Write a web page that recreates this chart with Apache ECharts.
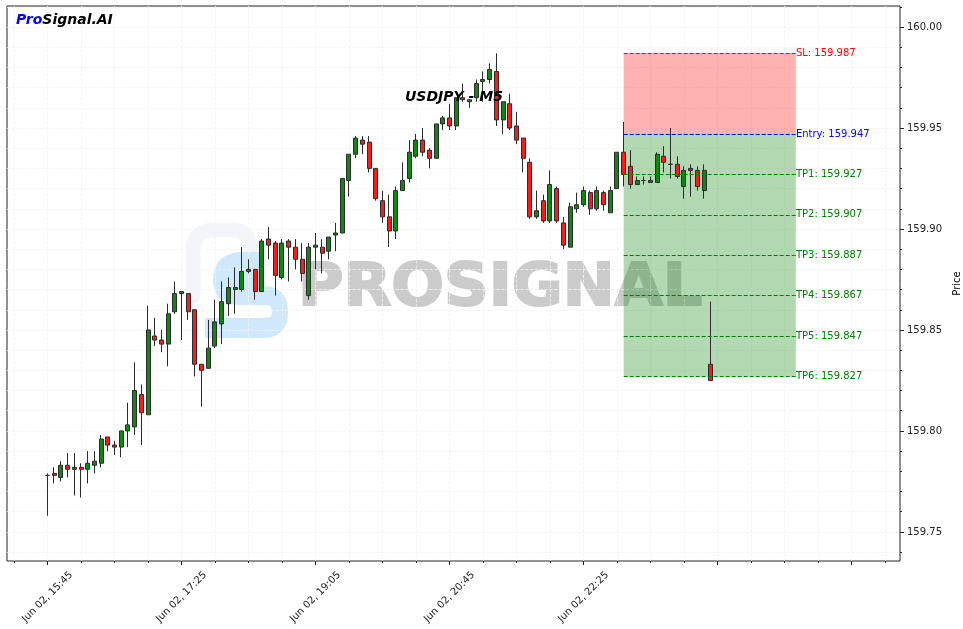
<!DOCTYPE html>
<html>
<head>
<meta charset="utf-8">
<style>html,body{margin:0;padding:0;background:#fff}#c{width:963px;height:629px}</style>
<script src="https://cdn.jsdelivr.net/npm/echarts@6/dist/echarts.min.js"></script>
</head>
<body>
<div id="c"></div>
<script>
const opens = [159.778,159.779,159.777,159.783,159.781,159.782,159.781,159.783,159.784,159.797,159.793,159.792,159.800,159.802,159.818,159.808,159.847,159.845,159.843,159.859,159.868,159.868,159.860,159.833,159.831,159.842,159.853,159.863,159.870,159.870,159.879,159.880,159.869,159.895,159.893,159.876,159.894,159.891,159.885,159.867,159.891,159.891,159.889,159.897,159.898,159.924,159.937,159.944,159.943,159.930,159.914,159.906,159.899,159.919,159.925,159.936,159.944,159.939,159.935,159.952,159.955,159.951,159.965,159.963,159.965,159.973,159.974,159.978,159.954,159.962,159.951,159.945,159.933,159.906,159.914,159.904,159.920,159.903,159.891,159.910,159.912,159.918,159.910,159.918,159.908,159.920,159.938,159.931,159.922,159.924,159.923,159.923,159.936,159.932,159.932,159.921,159.929,159.929,159.919,159.833];
const closes = [159.778,159.778,159.783,159.781,159.782,159.781,159.784,159.785,159.796,159.793,159.792,159.800,159.803,159.820,159.809,159.850,159.845,159.843,159.858,159.868,159.869,159.859,159.833,159.830,159.841,159.854,159.864,159.871,159.871,159.879,159.880,159.869,159.894,159.892,159.877,159.893,159.891,159.885,159.878,159.891,159.892,159.888,159.896,159.898,159.925,159.937,159.945,159.942,159.930,159.915,159.906,159.899,159.919,159.924,159.938,159.944,159.938,159.935,159.952,159.955,159.951,159.965,159.964,159.964,159.972,159.974,159.979,159.954,159.963,159.950,159.944,159.935,159.906,159.909,159.904,159.922,159.904,159.892,159.911,159.912,159.919,159.910,159.919,159.912,159.919,159.938,159.927,159.922,159.924,159.924,159.924,159.937,159.933,159.932,159.926,159.929,159.930,159.921,159.929,159.825];
const lows = [159.758,159.774,159.775,159.777,159.768,159.767,159.774,159.779,159.782,159.790,159.788,159.787,159.792,159.798,159.793,159.808,159.842,159.839,159.832,159.858,159.845,159.855,159.827,159.812,159.831,159.841,159.843,159.857,159.858,159.869,159.878,159.865,159.869,159.885,159.867,159.875,159.874,159.880,159.874,159.865,159.880,159.878,159.885,159.889,159.898,159.916,159.935,159.937,159.928,159.914,159.903,159.891,159.895,159.919,159.923,159.935,159.936,159.930,159.935,159.949,159.949,159.949,159.963,159.960,159.963,159.963,159.972,159.951,159.947,159.949,159.942,159.928,159.905,159.905,159.903,159.903,159.903,159.890,159.891,159.908,159.911,159.907,159.909,159.909,159.908,159.920,159.921,159.920,159.922,159.922,159.923,159.923,159.928,159.925,159.925,159.915,159.916,159.919,159.915,159.825];
const highs = [159.779,159.782,159.785,159.789,159.789,159.784,159.790,159.790,159.798,159.797,159.795,159.800,159.814,159.834,159.823,159.862,159.856,159.850,159.863,159.874,159.869,159.868,159.860,159.833,159.855,159.865,159.874,159.876,159.881,159.891,159.885,159.880,159.895,159.901,159.894,159.895,159.895,159.895,159.893,159.893,159.898,159.895,159.896,159.903,159.925,159.937,159.946,159.946,159.946,159.930,159.919,159.917,159.921,159.933,159.944,159.947,159.950,159.940,159.952,159.956,159.962,159.965,159.972,159.964,159.974,159.978,159.982,159.987,159.963,159.967,159.958,159.945,159.935,159.919,159.917,159.929,159.921,159.906,159.913,159.918,159.921,159.919,159.921,159.919,159.921,159.938,159.953,159.939,159.926,159.926,159.926,159.938,159.941,159.950,159.936,159.931,159.932,159.931,159.932,159.864];

const xTickIndex = [0,20,40,60,80,100,120];
const xTickLabels = ['Jun 02, 15:45','Jun 02, 17:25','Jun 02, 19:05','Jun 02, 20:45','Jun 02, 22:25','',''];
const xMinorIndex = [-5,0,5,10,15,20,25,30,35,40,45,50,55,60,65,70,75,80,85,90,95,100,105,110,115,120,125];
const yMajor = [159.75,159.80,159.85,159.90,159.95,160.00];
const yMinor = [159.74,159.75,159.76,159.77,159.78,159.79,159.80,159.81,159.82,159.83,159.84,159.85,159.86,159.87,159.88,159.89,159.90,159.91,159.92,159.93,159.94,159.95,159.96,159.97,159.98,159.99,160.00,160.01];

const levelNames = ['SL','Entry','TP1','TP2','TP3','TP4','TP5','TP6'];
const levelValues = [159.987,159.947,159.927,159.907,159.887,159.867,159.847,159.827];
const levelColors = ['#ff0000','#0000ff','#008000','#008000','#008000','#008000','#008000','#008000'];
const zoneFrom = 86, zoneTo = 111.7;

const xMin = -6.045, xMax = 127.24, yMin = 159.7356, yMax = 160.0104;
const font = '"DejaVu Sans", sans-serif';
const candles = opens.map((o,i)=>[i,o,closes[i],lows[i],highs[i]]);

// Watermark outline helper: [x,y] is a straight point, [cx,cy,x,y] a quadratic corner.
function outline(parts){
  const pts=[]; let p=null;
  parts.forEach(s=>{
    if(s.length===2){pts.push(s);p=s;}
    else{for(let k=1;k<=10;k++){const t=k/10,u=1-t;
      pts.push([u*u*p[0]+2*u*t*s[0]+t*t*s[2],u*u*p[1]+2*u*t*s[1]+t*t*s[3]]);}
      p=[s[2],s[3]];}
  });
  return pts;
}
const logoArch = outline([[193,296],[193,250],[193,230,215,230],[232,230],[250,230,250,250],[250,262]]);
const logoS = outline([[262,252],[245,252],[213,252,213,280],[213,305,240,305],[266,305],[272,305,272,312],[272,318,265,318],[205,318],[205,338],[262,338],[288,338,288,312],[288,286,262,286]]);

const chart = echarts.init(document.getElementById('c'), null, {renderer:'canvas'});
chart.setOption({
  animation:false,
  backgroundColor:'#fff',
  title:[
    {text:'USDJPY - M5',left:400,top:85,textStyle:{fontFamily:font,fontSize:14,fontWeight:'bold',fontStyle:'italic',color:'#000'}},
    {text:'{a|Pro}{b|Signal.AI}',left:11,top:8,textStyle:{rich:{
      a:{fontFamily:font,fontSize:14,fontWeight:'bold',fontStyle:'italic',color:'#0000ff'},
      b:{fontFamily:font,fontSize:14,fontWeight:'bold',fontStyle:'italic',color:'#000'}}}}
  ],
  grid:{left:7,top:6,width:893,height:555,show:true,borderColor:'#222',borderWidth:1,backgroundColor:'transparent',containLabel:false,outerBoundsMode:'none'},
  graphic:[
    {type:'polyline',z:-1,shape:{points:logoArch},style:{fill:'none',stroke:'#f3f5f8',lineWidth:15,lineCap:'round'}},
    {type:'polygon',z:-1,shape:{points:logoS},style:{fill:'#cfe8fc'}},
    {type:'text',z:-1,x:298,y:261,scaleX:1.07,style:{text:'PROSIGNAL',fontFamily:'DejaVu Sans',fontSize:58,fontWeight:'bold',fill:'#cbcbcb',stroke:'#cbcbcb',lineWidth:2,lineJoin:'round',shadowBlur:3,shadowColor:'#cbcbcb'}}
  ],
  xAxis:[
    {type:'value',min:xMin,max:xMax,position:'bottom',
      axisLine:{show:false,onZero:false},
      axisTick:{show:true,length:4,customValues:xTickIndex,lineStyle:{color:'#222'}},
      axisLabel:{show:true,rotate:45,margin:36,align:'center',verticalAlign:'middle',fontFamily:font,fontSize:10,color:'#222',customValues:xTickIndex,showMinLabel:true,showMaxLabel:true,
        formatter:v=>xTickLabels[xTickIndex.indexOf(Math.round(v))]||''},
      splitLine:{show:false}},
    {type:'value',min:xMin,max:xMax,position:'bottom',
      axisLine:{show:false,onZero:false},
      axisTick:{show:true,length:2,customValues:xMinorIndex,lineStyle:{color:'#222'}},
      axisLabel:{show:false},
      splitLine:{show:true,lineStyle:{color:'#f2f2f2',width:0.8,type:'dashed'}}}
  ],
  yAxis:[
    {type:'value',min:yMin,max:yMax,position:'right',name:'Price',nameLocation:'middle',nameGap:41,nameRotate:90,
      nameTextStyle:{fontFamily:font,fontSize:10,color:'#000'},
      axisLine:{show:false,onZero:false},
      axisTick:{show:true,length:4,customValues:yMajor,lineStyle:{color:'#222'}},
      axisLabel:{show:true,margin:7,padding:[2,0,0,0],fontFamily:font,fontSize:10,color:'#222',customValues:yMajor,formatter:v=>v.toFixed(2)},
      splitLine:{show:false}},
    {type:'value',min:yMin,max:yMax,position:'right',
      axisLine:{show:false,onZero:false},
      axisTick:{show:true,length:2,customValues:yMinor,lineStyle:{color:'#222'}},
      axisLabel:{show:false},
      splitLine:{show:true,lineStyle:{color:'#f2f2f2',width:0.8,type:'dashed'}}}
  ],
  series:[
    {type:'candlestick',xAxisIndex:0,yAxisIndex:0,z:2,barWidth:4.5,
      encode:{x:0,y:[1,2,3,4]},data:candles,
      itemStyle:{color:'#128612',color0:'#ff1a1a',borderColor:'#2b2b2b',borderColor0:'#2b2b2b',borderColorDoji:'#2b2b2b',borderWidth:1}},
    {type:'line',xAxisIndex:0,yAxisIndex:0,z:5,data:[],silent:true,
      markArea:{silent:true,label:{show:false},data:[
        [{coord:[zoneFrom,levelValues[0]],itemStyle:{color:'rgba(255,0,0,0.3)'}},{coord:[zoneTo,levelValues[1]]}],
        [{coord:[zoneFrom,levelValues[1]],itemStyle:{color:'rgba(0,128,0,0.3)'}},{coord:[zoneTo,levelValues[7]]}]
      ]},
      markLine:{silent:true,symbol:'none',precision:3,data:levelNames.map((n,i)=>[
        {coord:[zoneFrom,levelValues[i]],lineStyle:{color:levelColors[i],type:[4,2],width:1},
         label:{show:true,position:'end',distance:0,formatter:n+': '+levelValues[i].toFixed(3),fontFamily:font,fontSize:10,color:levelColors[i]}},
        {coord:[zoneTo,levelValues[i]]}
      ])}}
  ]
});
</script>
</body>
</html>
